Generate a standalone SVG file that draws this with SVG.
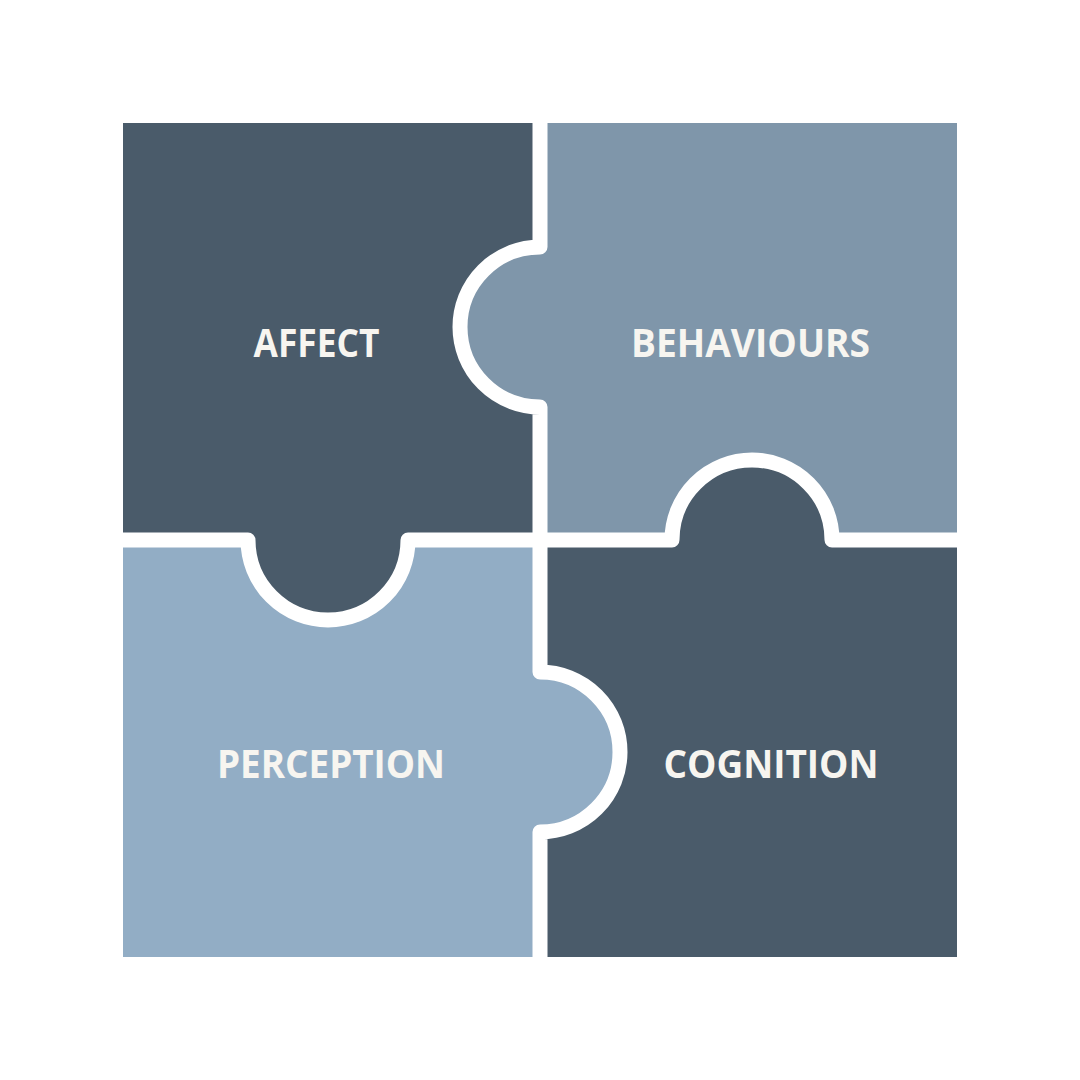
<svg xmlns="http://www.w3.org/2000/svg" width="1080" height="1080" viewBox="0 0 1080 1080">
<style>
.dark{fill:#4a5b6a}
.mid{fill:#7f96aa}
.light{fill:#92adc5}
.lbl{font-family:"Open Sans","Noto Sans","Liberation Sans",sans-serif;font-weight:700;font-size:40px;fill:#f7f5f0;text-anchor:middle}
.seam{fill:none;stroke:#ffffff;stroke-width:15;stroke-linejoin:round;stroke-linecap:butt}
</style>
<rect width="1080" height="1080" fill="#ffffff"/>
<g id="affect">
<path class="dark" d="M123,123 H540 V247 A80,80 0 0 0 540,407 V540 H408 A80,80 0 0 1 248,540 H123 Z"/>
<text class="lbl" x="316.5" y="357" textLength="126" lengthAdjust="spacingAndGlyphs">AFFECT</text>
</g>
<g id="behaviours">
<path class="mid" d="M540,123 H957 V540 H832 A80,80 0 0 0 672,540 H540 V407 A80,80 0 0 1 540,247 Z"/>
<text class="lbl" x="750.5" y="357" textLength="239" lengthAdjust="spacingAndGlyphs">BEHAVIOURS</text>
</g>
<g id="perception">
<path class="light" d="M123,540 H248 A80,80 0 0 0 408,540 H540 V672 A80,80 0 0 1 540,832 V957 H123 Z"/>
<text class="lbl" x="331" y="778" textLength="228" lengthAdjust="spacingAndGlyphs">PERCEPTION</text>
</g>
<g id="cognition">
<path class="dark" d="M540,540 H672 A80,80 0 0 1 832,540 H957 V957 H540 V832 A80,80 0 0 0 540,672 Z"/>
<text class="lbl" x="771" y="778" textLength="215" lengthAdjust="spacingAndGlyphs">COGNITION</text>
</g>
<g id="connectors">
<path class="seam" d="M540,115 V247 A80,80 0 0 0 540,407 V672 A80,80 0 0 1 540,832 V965"/>
<path class="seam" d="M115,540 H248 A80,80 0 0 0 408,540 H672 A80,80 0 0 1 832,540 H965"/>
</g>
</svg>
